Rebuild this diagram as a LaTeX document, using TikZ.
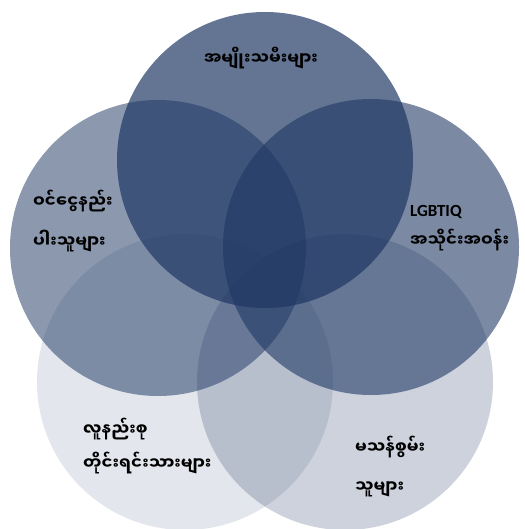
\documentclass[tikz,border=0pt]{standalone}
\usepackage{fontspec}
\newfontfamily\mmfont[Script=Myanmar]{Noto Sans Myanmar UI}
\newfontfamily\latfont{Carlito}
\definecolor{navy}{HTML}{1B3461}

\begin{document}
\begin{tikzpicture}[
    x=1pt, y=-1pt,
    every node/.style={font=\mmfont\bfseries\fontsize{16.5}{20}\selectfont},
    set/.style={fill=navy, fill opacity=#1},
    lbl/.style={anchor=west, align=left, inner sep=0pt}
]
    \useasboundingbox (0,0) rectangle (524,529);

    % Groups
    \fill[set=0.12] (185,382) circle[radius=148pt];
    \fill[set=0.22] (345,382) circle[radius=148pt];
    \fill[set=0.51] (158,248) circle[radius=148pt];
    \fill[set=0.58] (371,247) circle[radius=148pt];
    \fill[set=0.68] (265,160) circle[radius=148pt];

    % Labels
    \node[inner sep=0pt] (women) at (261,58) {အမျိုးသမီးများ};
    \node[lbl] (poor) at (33,221) {ဝင်ငွေနည်း\\[17pt]ပါးသူများ};
    \node[lbl] (lgbt) at (410,228) {{\latfont\fontsize{17}{20}\selectfont LGBTIQ}\\[10pt]အသိုင်းအဝန်း};
    \node[lbl] (ethnic) at (83,446) {လူနည်းစု\\[12pt]တိုင်းရင်းသားများ};
    \node[lbl] (disab) at (355,467) {မသန်စွမ်း\\[19pt]သူများ};
\end{tikzpicture}
\end{document}
